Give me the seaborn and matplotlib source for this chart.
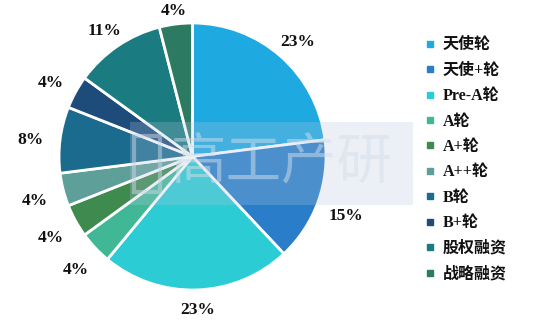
import matplotlib
matplotlib.use("Agg")
import matplotlib.pyplot as plt
import seaborn as sns
import numpy as np
from matplotlib.lines import Line2D
from matplotlib.patches import Rectangle

categories = ["天使轮", "天使+轮", "Pre-A轮", "A轮", "A+轮", "A++轮", "B轮", "B+轮", "股权融资", "战略融资"]
values = [23, 15, 23, 4, 4, 4, 8, 4, 11, 4]
colors = ["#1FA9E1", "#2A7DC8", "#2BCCD4", "#40B896", "#3F8A4F", "#5E9F99",
          "#1B6B8E", "#1E4C7A", "#1A7B80", "#2D7A62"]

sns.set_theme(style="white")
plt.rcParams['font.family'] = ['Liberation Serif', 'Noto Sans CJK SC', 'DejaVu Sans']

fig = plt.figure(figsize=(5.43, 3.22), dpi=100)
fig.patch.set_facecolor("white")
ax = fig.add_axes([59/543, 32/322, 267/543, 267/322])

wedges, texts, autotexts = ax.pie(
    values, colors=colors, startangle=90, counterclock=False,
    autopct=lambda p: f"{p:.0f}%", pctdistance=1.2,
    wedgeprops=dict(edgecolor="white", linewidth=2),
    textprops=dict(fontsize=12.5, fontweight="bold", color="#111111"))
# place labels outside, nearer for top/bottom labels (text is wider than tall)
for w, t in zip(wedges, autotexts):
    ang = np.deg2rad((w.theta1 + w.theta2) / 2)
    r = 1.115 + 0.11 * abs(np.cos(ang))
    t.set_position((r * np.cos(ang), r * np.sin(ang) - 0.03))
ax.set_xlim(-1, 1)
ax.set_ylim(-1, 1)
ax.set_aspect("equal")

# watermark band
fig.patches.append(Rectangle((130/543, 117/322), 283/543, 83/322, transform=fig.transFigure,
                             facecolor="#B4C6DC", alpha=0.25, edgecolor="none", zorder=5))
fig.patches.append(Rectangle((134/543, 130/322), 26/543, 56/322, transform=fig.transFigure,
                             facecolor="none", edgecolor="#C9D6E6", linewidth=3, alpha=0.5, zorder=6))
fig.text(282/543, 158/322, "高工产研", ha="center", va="center", fontsize=40,
         family=["Noto Sans CJK SC"], color="#D3DEEA", alpha=0.5, zorder=6)

handles = [Line2D([0], [0], marker="s", linestyle="none", markersize=5,
                  markerfacecolor=c, markeredgecolor=c) for c in colors]
leg = fig.legend(handles, categories, loc="upper left", bbox_to_anchor=(409/543, 1 - 23/322),
                 frameon=False, handlelength=0.8, handletextpad=0.4, labelspacing=0.59,
                 prop=dict(size=11.5, weight="bold"))
for t in leg.get_texts():
    t.set_color("#111111")

fig.savefig("out.png", dpi=100, facecolor="white")
